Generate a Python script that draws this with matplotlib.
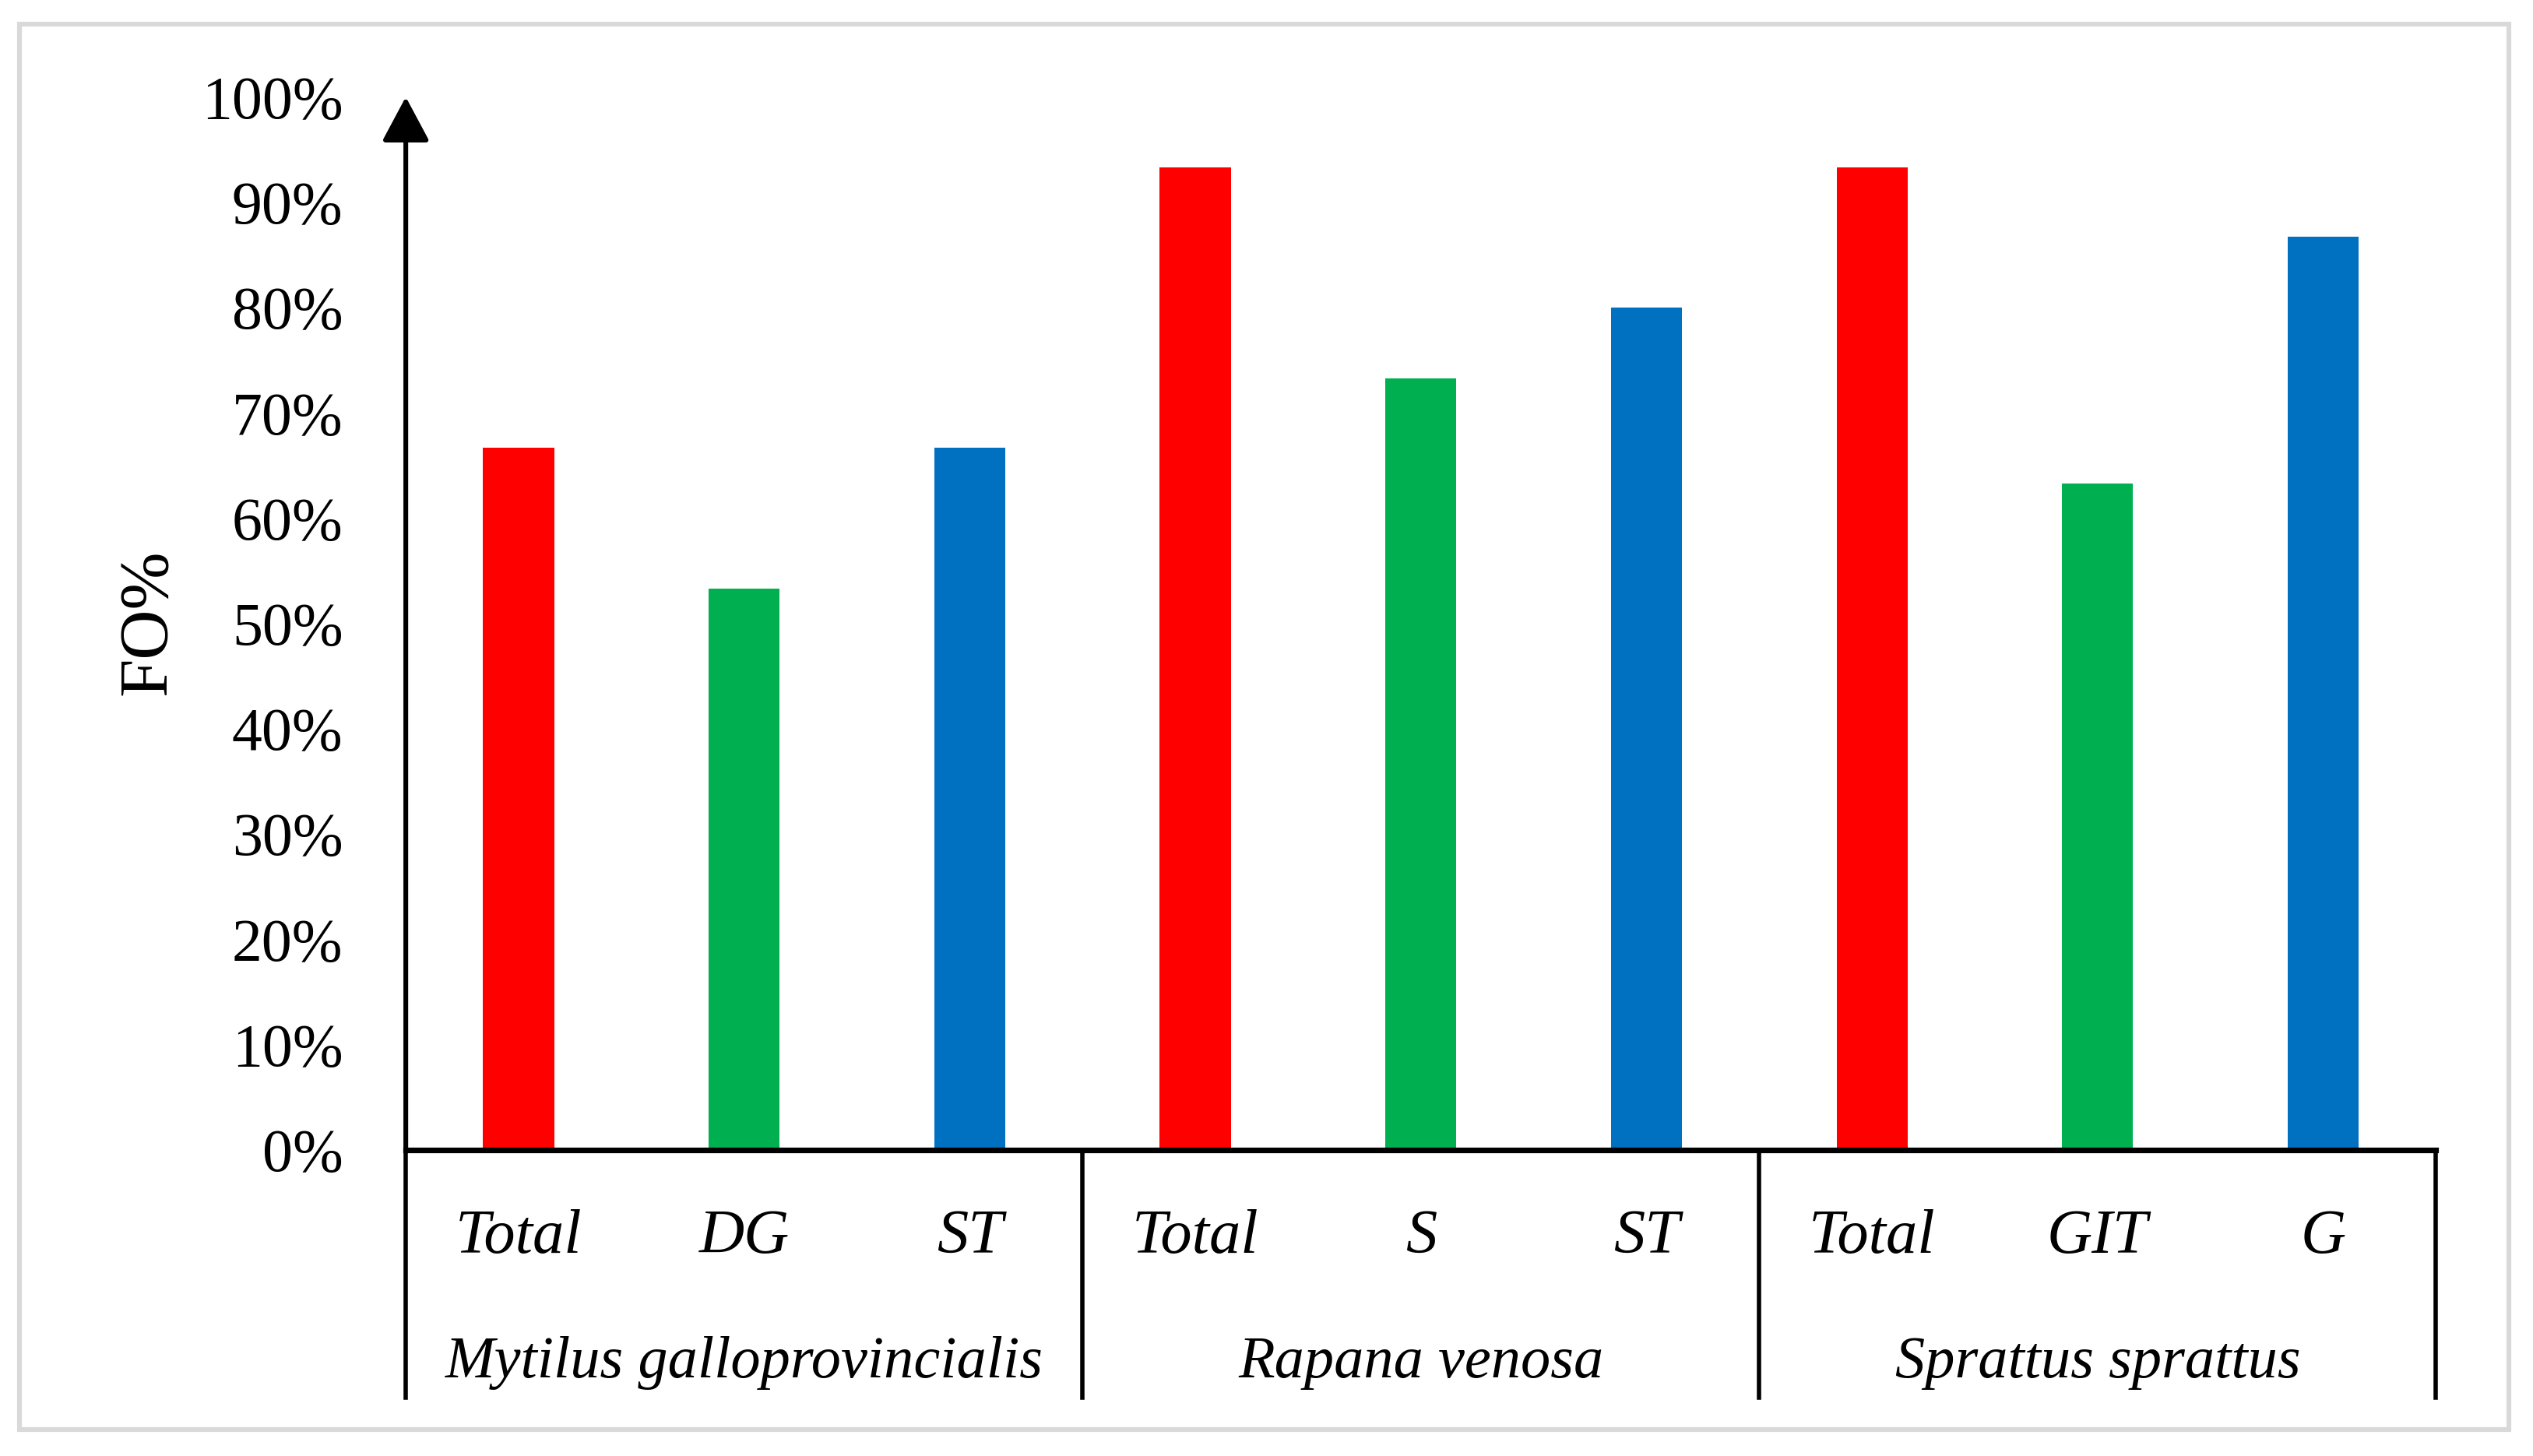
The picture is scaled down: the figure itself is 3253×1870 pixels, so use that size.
import numpy as np
import matplotlib as mpl
mpl.use("Agg")
mpl.rcParams.update({'font.family': ['Liberation Serif', 'DejaVu Serif']})
from matplotlib import pyplot as plt
from matplotlib import transforms
from matplotlib.patches import Rectangle

groups = ["Mytilus galloprovincialis", "Rapana venosa", "Sprattus sprattus"]
sub_labels = [["Total", "DG", "ST"], ["Total", "S", "ST"], ["Total", "GIT", "G"]]
values = [[66.7, 53.3, 66.7], [93.3, 73.3, 80.0], [93.3, 63.3, 86.7]]
colors = ["#FF0000", "#00B050", "#0070C0"]
y_ticks = [0, 10, 20, 30, 40, 50, 60, 70, 80, 90, 100]


def main():
    fig = plt.figure(figsize=(16.265, 9.35), dpi=200)
    ax = fig.add_axes([0.1602, 0.2102, 0.8015, 0.7232])

    pos = 0
    for g, subs in enumerate(sub_labels):
        for k, lab in enumerate(subs):
            ax.bar(pos, values[g][k], width=0.315, color=colors[k])
            pos += 1

    ax.set_xlim(-0.5, 8.5)
    ax.set_ylim(0, 100)
    ax.set_xticks([])
    ax.set_yticks(y_ticks)
    ax.set_yticklabels([f"{v}%" for v in y_ticks])
    ax.tick_params(axis='y', length=0, pad=29, labelsize=28)

    ax.spines['right'].set_visible(False)
    ax.spines['top'].set_visible(False)
    ax.spines['left'].set_visible(False)
    ax.spines['bottom'].set_linewidth(2.6)

    # y axis with arrow head
    ax.annotate('', xy=(0, 1.0), xytext=(0, 0), xycoords='axes fraction',
                arrowprops=dict(arrowstyle='-|>,head_length=0.88,head_width=0.47',
                                color='black', lw=2.2, shrinkA=0, shrinkB=0,
                                mutation_scale=20))

    # category table under the axis
    trans = transforms.blended_transform_factory(ax.transData, ax.transAxes)
    for xb in [-0.5, 2.5, 5.5, 8.5]:
        ax.plot([xb, xb], [0, -0.2353], color='black', lw=2.0,
                transform=trans, clip_on=False)
    pos = 0
    for g, subs in enumerate(sub_labels):
        for lab in subs:
            ax.text(pos, -0.0976, lab, transform=trans, ha='center',
                    va='baseline', fontsize=29, style='italic')
            pos += 1
        ax.text(3 * g + 1, -0.216, groups[g], transform=trans, ha='center',
                va='baseline', fontsize=27.5, style='italic')

    fig.text(0.0587, 0.5727, "FO%", rotation=90, ha='center', va='center',
             fontsize=32)

    # light gray frame round the picture
    fig.patches.append(Rectangle((0.0077, 0.0182), 0.9828, 0.9652,
                                 transform=fig.transFigure, fill=False,
                                 edgecolor='#D9D9D9', lw=2.2))

    fig.savefig("out.png", dpi=200)


if __name__ == '__main__':
    main()
